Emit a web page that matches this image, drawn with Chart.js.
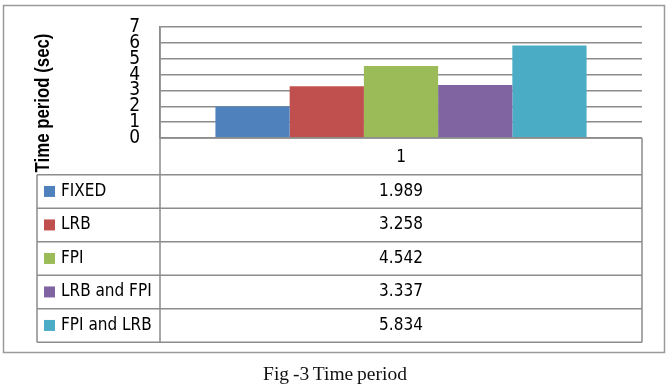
<!DOCTYPE html>
<html>
<head>
<meta charset="utf-8">
<script src="https://cdn.jsdelivr.net/npm/chart.js@4.4.1/dist/chart.umd.min.js"></script>
<style>
  html, body { margin: 0; padding: 0; background: #ffffff; }
  #wrap { position: relative; width: 670px; height: 386px; overflow: hidden; }
  #chart { position: absolute; left: 0; top: 0; }
  #caption {
    position: absolute; left: 0; top: 364px; width: 670px;
    text-align: center; font: 19.5px "Liberation Serif", "DejaVu Serif", serif;
    line-height: 20px; color: #111; word-spacing: -1px;
  }
</style>
</head>
<body>
<div id="wrap">
  <canvas id="chart" width="670" height="386"></canvas>
  <div id="caption">Fig -3 Time period</div>
</div>
<script>
// ---- data ----
const categories = ['1'];
const seriesNames = ['FIXED', 'LRB', 'FPI', 'LRB and FPI', 'FPI and LRB'];
const seriesValues = [1.989, 3.258, 4.542, 3.337, 5.834];
const seriesColors = ['#4f81bd', '#c0504d', '#9bbb59', '#8064a2', '#4bacc6'];
const yAxisTitle = 'Time period (sec)';
const yMin = 0;
const yMax = 7;
const yStep = 1;

// ---- styles ----
const GRID = '#8c8c8c';
const TICK_FAMILY = '"DejaVu Sans Condensed", "DejaVu Sans", sans-serif';
const TABLE_FONT = '17px "DejaVu Sans Condensed", "DejaVu Sans", sans-serif';

const datasets = seriesNames.map((name, i) => ({
  label: name,
  data: [seriesValues[i]],
  backgroundColor: seriesColors[i],
  borderWidth: 0,
  categoryPercentage: 0.77,
  barPercentage: 1.0
}));

const tablePlugin = {
  id: 'dataTable',
  beforeDraw(chart) {
    const ctx = chart.ctx;
    ctx.save();
    ctx.strokeStyle = '#9a9a9a';
    ctx.lineWidth = 1.5;
    ctx.strokeRect(3.5, 5.5, 661, 347);
    ctx.restore();
  },
  afterDraw(chart) {
    const ctx = chart.ctx;
    const a = chart.chartArea;
    const headerH = 36.7;
    const rowH = 33.5;
    const legendLeft = 37;
    const top = a.bottom;
    const headerBottom = top + headerH;
    const tableBottom = headerBottom + rowH * seriesNames.length;

    ctx.save();
    ctx.strokeStyle = GRID;
    ctx.lineWidth = 1.5;
    ctx.beginPath();
    ctx.moveTo(a.left, top); ctx.lineTo(a.right, top);
    for (let r = 0; r <= seriesNames.length; r++) {
      const y = headerBottom + r * rowH;
      ctx.moveTo(legendLeft, y); ctx.lineTo(a.right, y);
    }
    ctx.moveTo(legendLeft, headerBottom); ctx.lineTo(legendLeft, tableBottom);
    ctx.moveTo(a.left, a.top); ctx.lineTo(a.left, tableBottom);
    ctx.moveTo(a.right, top); ctx.lineTo(a.right, tableBottom);
    ctx.stroke();

    ctx.fillStyle = '#000';
    ctx.font = TABLE_FONT;
    ctx.textAlign = 'center';
    ctx.textBaseline = 'middle';
    const cx = (a.left + a.right) / 2;
    categories.forEach((c) => ctx.fillText(c, cx, top + headerH / 2 + 1));

    seriesNames.forEach((name, i) => {
      const yc = headerBottom + rowH * i + rowH / 2;
      ctx.fillStyle = seriesColors[i];
      ctx.fillRect(legendLeft + 7, yc - 5.5, 11, 11);
      ctx.fillStyle = '#000';
      ctx.textAlign = 'left';
      ctx.fillText(name, legendLeft + 24, yc);
      ctx.textAlign = 'center';
      ctx.fillText(String(seriesValues[i]), cx, yc);
    });

    // y axis title (narrow bold face emulated by compressing along the text)
    ctx.font = 'bold 20.5px "Liberation Sans", Arial, sans-serif';
    ctx.fillStyle = '#000';
    ctx.translate(43, 103);
    ctx.rotate(-Math.PI / 2);
    ctx.scale(0.82, 1);
    ctx.textAlign = 'center';
    ctx.textBaseline = 'middle';
    ctx.fillText(yAxisTitle, 0, 0);
    ctx.restore();
  }
};

new Chart(document.getElementById('chart'), {
  type: 'bar',
  data: { labels: categories, datasets },
  options: {
    responsive: false,
    animation: false,
    devicePixelRatio: 1,
    layout: { padding: { left: 0, top: 27, right: 28, bottom: 248 } },
    plugins: { legend: { display: false }, tooltip: { enabled: false }, title: { display: false } },
    scales: {
      x: { display: false },
      y: {
        min: yMin, max: yMax,
        afterFit(scale) { scale.width = 160; },
        ticks: {
          stepSize: yStep,
          autoSkip: false,
          padding: 3,
          color: '#000',
          font: { family: TICK_FAMILY, size: 19, lineHeight: 1.0 }
        },
        grid: { color: GRID, lineWidth: 1.5, drawTicks: true, tickLength: 17, tickColor: 'rgba(0,0,0,0)' },
        border: { display: true, color: GRID, width: 1.5 }
      }
    }
  },
  plugins: [tablePlugin]
});
</script>
</body>
</html>
